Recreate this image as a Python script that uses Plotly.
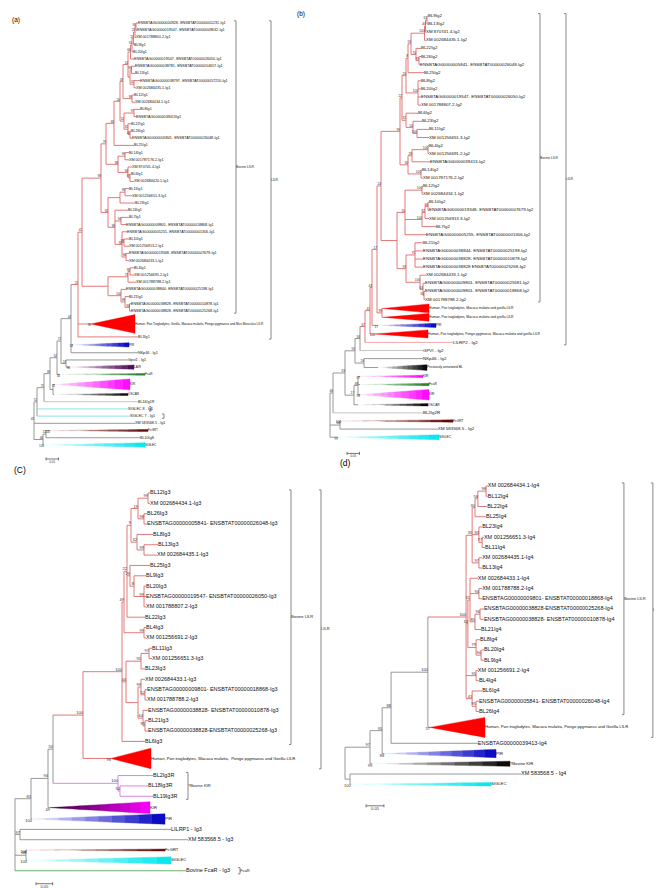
import plotly.graph_objects as go

W, H = 662, 888


def N(d, b, *kids, c=None):
    """Internal tree node: depth (substitutions/site from root), bootstrap, children."""
    return {"d": d, "b": b, "kids": list(kids), "c": c}

# ======================= panel (a) : Ig1 =======================
A_LEAVES = [
    "ENSBTAG00000000928- ENSBTAT00000001231-Ig1", "ENSBTAG00000019547- ENSBTAT00000009632-Ig1",
    "XM 001788801.2-Ig1", "BL9Ig1", "BL20Ig1", "ENSBTAG00000019547- ENSBTAT00000026050-Ig1",
    "ENSBTAG00000038781- ENSBTAT00000054657-Ig1", "BL13Ig1", "ENSBTAG00000038797- ENSBTAT00000057210-Ig1",
    "XM 002684435.1-Ig1", "BL12Ig1", "XM 002684434.1-Ig1", "BL8Ig1", "ENSBTAG00000039413Ig1",
    "BL22Ig1", "BL26Ig1", "ENSBTAG00000005841- ENSBTAT00000026048-Ig1", "BL25Ig1", "BL14Ig1",
    "XM 001787176.2-Ig1", "XM 870741.4-Ig1", "BL6Ig1", "XM 002684420.1-Ig1", "BL11Ig1",
    "XM 001256651.3-Ig1", "BL23Ig1", "BL24Ig1", "BL7Ig1", "ENSBTAG00000009801- ENSBTAT00000018868-Ig1",
    "ENSBTAG00000005255- ENSBTAT00000001306-Ig1", "BL10Ig1", "XM 001256913.2-Ig1",
    "ENSBTAG00000019348- ENSBTAT00000007679-Ig1", "XM 002684433.1-Ig1", "BL4Ig1", "XM 001256691.2-Ig1",
    "XM 001788788.2-Ig1", "ENSBTAG00000038844- ENSBTAT00000025198-Ig1", "BL21Ig1",
    "ENSBTAG00000038828- ENSBTAT00000010878-Ig1", "ENSBTAG00000038828- ENSBTAT00000025268-Ig1",
    "Human, Pan Troglodytes, Gorilla, Macaca mulatta, Pongo pygmaeus and Mus Musculus LILR",
    "BL3Ig1", "PIR", "NKp46 - Ig1", "Gpvi1 - Ig1", "LAIR", "FcaR", "KIR", "OSCAR", "BL16Ig1R",
    "SIGLEC 8 - Ig1", "SIGLEC 7 - Ig1", "XM 583568.5 - Ig1", "FcGRT", "BL10Ig8", "SIGLEC",
]
A_TIPS = [
    0.416, 0.412, 0.408, 0.400, 0.396, 0.400, 0.404, 0.404, 0.424, 0.408,
    0.400, 0.404, 0.424, 0.408, 0.388, 0.388, 0.392, 0.400, 0.380, 0.380,
    0.392, 0.388, 0.400, 0.380, 0.392, 0.404, 0.376, 0.380, 0.368, 0.372,
    0.380, 0.380, 0.380, 0.380, 0.400, 0.400, 0.408, 0.368, 0.380, 0.388,
    0.388, 0.404, 0.416, 0.380, 0.416, 0.376, 0.400, 0.444, 0.384, 0.376,
    0.416, 0.376, 0.384, 0.404, 0.456, 0.424, 0.444,
]
A_TREE = N(0.000, "43",
    N(0.012, "51",
        N(0.040, "75",
            N(0.064, "39",
                N(0.092, "62",
                    N(0.108, "72",
                        N(0.148, "44",
                            N(0.176, "21",
                                N(0.192, "41",
                                    N(0.268, "89",
                                        N(0.288, "79",
                                            N(0.320, "89",
                                                N(0.344, "20",
                                                    N(0.356, "58",
                                                        N(0.376, "14",
                                                            N(0.386, "66",
                                                                N(0.392, "50",
                                                                    N(0.398, "15",
                                                                        N(0.404, "23", N(0.408, "86", 1, 2), 3),
                                                                        4),
                                                                    5),
                                                                6),
                                                            N(0.384, "", N(0.390, "99", 7, 8), N(0.400, "32", 9, 10))),
                                                        N(0.392, "99", 11, 12)),
                                                    N(0.360, "52",
                                                        N(0.400, "97", 13, 14),
                                                        N(0.376, "31", 15, N(0.384, "46", 16, 17)))),
                                                18),
                                            N(0.336, "98",
                                                N(0.364, "99", 19, 20),
                                                N(0.376, "94", 21, N(0.384, "97", 22, 23)))),
                                        N(0.296, "92",
                                            N(0.344, "", N(0.364, "99", 24, 25), 26),
                                            N(0.324, "98", 27,
                                                N(0.348, "94", 28, 29),
                                                N(0.352, "96", 30,
                                                    N(0.360, "98", 31, 32),
                                                    N(0.368, "96", 33, 34))))),
                                    N(0.296, "",
                                        N(0.376, "73", N(0.384, "99", 35, 36), 37),
                                        N(0.348, "100", 38, N(0.364, "99", 39, N(0.382, "99", 40, 41))))),
                                42, 43, c="red"),
                            44, 45),
                        N(0.128, "24", 46, 47)),
                    48),
                N(0.076, "", 49, 50)),
            51),
        52, 53),
    54,
    N(0.036, "46", N(0.048, "51", 55, 56), 57))
# collapsed clades: leaf -> (apex depth, bootstrap, palette, height in rows)
A_WEDGES = {42: (0.228, "98", "lilr", 2.6), 44: (0.156, "54", "pir", 0.6), 47: (0.144, "96", "lair", 0.6),
            48: (0.104, "56", "fcar", 0.25), 49: (0.084, "75", "kir", 1.5), 50: (0.080, "", "oscar", 0.3),
            55: (0.064, "100", "fcgrt", 0.3), 57: (0.040, "100", "siglec", 0.6)}
A_ROWS = {42: 2.6, 44: 1.2, 49: 1.8}
A_LEAFCOL = {51: "lgrey", 52: "cyan", 53: "cyan"}
A_BRACKETS = [(1, 41, 0.808, "Bovine LILR"), (1, 43, 0.948, "LILR"), (52, 52, 0.468, ""), (53, 53, 0.520, "")]
A_SCALE = (0.048, 1.95)

# ======================= panel (b) : Ig2 =======================
B_LEAVES = [
    "BL9Ig2", "BL13Ig2", "XM 870741.4-Ig2", "XM 002684435.1-Ig2", "BL22Ig2", "BL26Ig2",
    "ENSBTAG00000005841- ENSBTAT00000026048-Ig2", "BL25Ig2", "BL8Ig2", "BL20Ig2",
    "ENSBTAG00000019547- ENSBTAT00000026050-Ig2", "XM 001788807.2-Ig2", "BL6Ig2", "BL23Ig2",
    "BL11Ig2", "XM 001256651.3-Ig2", "BL4Ig2", "XM 001256691.2-Ig2", "ENSBTAG00000039413-Ig2",
    "BL14Ig2", "XM 001787176.2-Ig2", "BL12Ig2", "XM 002684434.1-Ig2", "BL10Ig2",
    "ENSBTAG00000019348- ENSBTAT00000007679-Ig2", "XM 001256913.3-Ig2", "BL7Ig2",
    "ENSBTAG00000005255- ENSBTAT00000001306-Ig2", "BL21Ig2", "ENSBTAG00000038844- ENSBTAT00000025198-Ig2",
    "ENSBTAG00000038828- ENSBTAT00000010878-Ig2", "ENSBTAG00000038828 ENSBTAT00000025268-Ig2",
    "XM 002684433.1-Ig2", "ENSBTAG00000009801- ENSBTAT00000025581-Ig2",
    "ENSBTAG00000009801- ENSBTAT00000018868-Ig2", "XM 001788788.2-Ig2",
    "Human, Pan troglodytes, Macaca mulatta and gorilla LILR",
    "Human, Pan troglodytes, Macaca mulatta and gorilla LILR", "PIR",
    "Human, Pan troglodytes, Pongo pygmaeus, Macaca mulatta and gorilla LILR",
    "LILRP2 - Ig2", "GPVI - Ig2", "NKp46 - Ig2", "Previously annotated BL", "KIR", "FcaR", "KIR",
    "OSCAR", "BL2Ig2R", "FcGRT", "XM 583568.5 - Ig2", "SIGLEC",
]
B_TIPS = [
    0.392, 0.392, 0.384, 0.384, 0.364, 0.364, 0.360, 0.376, 0.364, 0.364,
    0.364, 0.364, 0.352, 0.368, 0.396, 0.396, 0.396, 0.396, 0.400, 0.368,
    0.372, 0.372, 0.372, 0.396, 0.396, 0.396, 0.424, 0.384, 0.372, 0.372,
    0.372, 0.372, 0.384, 0.380, 0.380, 0.380, 0.396, 0.396, 0.424, 0.392,
    0.492, 0.372, 0.372, 0.388, 0.372, 0.396, 0.396, 0.392, 0.372, 0.492,
    0.432, 0.436,
]
B_TREE = N(0.000, "",
    N(0.012, "46",
        N(0.060, "63",
            N(0.100, "92",
                N(0.120, "34",
                    N(0.140, "67",
                        N(0.160, "41",
                            N(0.168, "43",
                                N(0.188, "17",
                                    N(0.204, "24",
                                        N(0.280, "99",
                                            N(0.288, "22",
                                                N(0.304, "20",
                                                    N(0.312, "8",
                                                        N(0.324, "93",
                                                            N(0.378, "100", N(0.382, "40", N(0.388, "61", 1, 2), 3), 4),
                                                            N(0.344, "70", 5, N(0.356, "99", 6, 7))),
                                                        8),
                                                    N(0.352, "100", 9, 10, 11, 12)),
                                                N(0.304, "31", 13, N(0.332, "50", 14, N(0.348, "100", 15, 16)))),
                                            N(0.312, "30",
                                                N(0.328, "28", N(0.392, "100", 17, 18), 19),
                                                N(0.364, "100", 20, 21))),
                                        N(0.268, "",
                                            N(0.300, "55",
                                                N(0.368, "100", 22, 23),
                                                N(0.368, "100", N(0.380, "82", N(0.392, "66", 24, 25), 26), 27),
                                                28),
                                            N(0.304, "93",
                                                N(0.340, "75", 29, 30, 31, 32),
                                                N(0.360, "100", 33, N(0.372, "63", 34, N(0.376, "61", 35, 36)))))),
                                    N(0.208, "98", 37, 38)),
                                39),
                            40),
                        41, c="red"),
                    42),
                N(0.136, "24", 43, 44)),
            N(0.096, "17", N(0.112, "48", 45, 46, 47), 48)),
        49),
    N(0.040, "64", 50, 51),
    52)
B_WEDGES = {37: (0.212, "", "lilr", 1.1), 38: (0.212, "", "lilr", 0.95), 39: (0.192, "17", "pir", 0.5),
            40: (0.180, "100", "lilr", 1.0), 44: (0.192, "", "black", 0.7), 45: (0.120, "97", "kir", 0.3),
            46: (0.120, "", "fcar", 0.3), 47: (0.120, "98", "kir", 1.3), 48: (0.112, "", "oscar", 0.3),
            50: (0.044, "100", "fcgrt", 0.3), 52: (0.032, "99", "siglec", 0.6)}
B_ROWS = {37: 1.2, 38: 1.0, 40: 1.1, 44: 1.2, 47: 1.5}
B_LEAFCOL = {41: "lilrp2", 42: "lgrey", 49: "lgrey"}
B_BRACKETS = [(1, 36, 0.840, "Bovine LILR"), (1, 41, 0.944, "LILR")]
B_SCALE = (0.068, 2.0)

# ======================= panel (c) : Ig3 =======================
C_LEAVES = [
    "BL12Ig3", "XM 002684434.1-Ig3", "BL26Ig3", "ENSBTAG00000005841- ENSBTAT00000026048-Ig3",
    "BL8Ig3", "BL13Ig3", "XM 002684435.1-Ig3", "BL25Ig3", "BL9Ig3", "BL20Ig3",
    "ENSBTAG00000019547- ENSBTAT00000026050-Ig3", "XM 001788807.2-Ig3", "BL22Ig3", "BL4Ig3",
    "XM 001256691.2-Ig3", "BL11Ig3", "XM 001256651.3-Ig3", "BL23Ig3", "XM 002684433.1-Ig3",
    "ENSBTAG00000009801- ENSBTAT00000018868-Ig3", "XM 001788788.2-Ig3",
    "ENSBTAG00000038828- ENSBTAT00000010878-Ig3", "BL21Ig3", "ENSBTAG00000038828-ENSBTAT00000025268-Ig3",
    "BL6Ig3", "Human, Pan troglodytes, Macaca mulatta,  Pongo pygmaeus and Gorilla LILR",
    "BL2Ig3R", "BL18Ig3R", "BL19Ig3R", "KIR", "PIR", "LILRP1 - Ig3", "XM 583568.5 - Ig3",
    "FcGRT", "SIGLEC", "Bovine FcaR - Ig3",
]
C_TIPS = [
    0.405, 0.405, 0.396, 0.396, 0.414, 0.429, 0.426, 0.405, 0.393, 0.393,
    0.393, 0.393, 0.390, 0.393, 0.393, 0.411, 0.411, 0.390, 0.390, 0.396,
    0.396, 0.399, 0.399, 0.399, 0.390, 0.408, 0.414, 0.399, 0.414, 0.405,
    0.450, 0.468, 0.519, 0.450, 0.468, 0.513,
]
C_TREE = N(0.000, "",
    N(0.048, "83",
        N(0.099, "94",
            N(0.114, "50",
                N(0.204, "100",
                    N(0.321, "100",
                        N(0.327, "49",
                            N(0.336, "22",
                                N(0.348, "9",
                                    N(0.369, "19", N(0.399, "99", 1, 2), N(0.387, "98", 3, 4)),
                                    N(0.366, "32", 5, N(0.387, "99", 6, 7))),
                                N(0.345, "29", 8, N(0.357, "8", 9, N(0.387, "99", 10, 11, 12))),
                                13),
                            N(0.387, "99", 14, 15)),
                        N(0.333, "44",
                            N(0.378, "95", N(0.402, "97", 16, 17), 18),
                            N(0.369, "",
                                N(0.378, "99", 19, N(0.390, "52", 20, 21)),
                                N(0.384, "64", 22, N(0.390, "95", 23, 24)))),
                        25),
                    26, c="red"),
                N(0.309, "100", 27, N(0.315, "50", 28, 29), c="magenta")),
            30),
        31),
    N(0.015, "97", 32, 33),
    N(0.033, "48", 34, 35),
    36)
C_WEDGES = {26: (0.288, "98", "lilr", 2.0), 30: (0.105, "49", "kir_dark", 1.15), 31: (0.051, "100", "pir", 1.0),
            34: (0.036, "100", "fcgrt", 0.2), 35: (0.036, "100", "siglec", 0.7)}
C_ROWS = {26: 2.3, 30: 1.2}
C_LEAFCOL = {36: "green"}
C_BRACKETS = [(1, 25, 0.828, "Bovine LILR"), (1, 26, 0.918, "LILR"), (27, 29, 0.519, "?Bovine KIR"),
              (36, 36, 0.675, "FcaR")]
C_SCALE = (0.063, 1.25)

# ======================= panel (d) : Ig4 =======================
D_LEAVES = [
    "XM 002684434.1-Ig4", "BL12Ig4", "BL22Ig4", "BL25Ig4", "BL23Ig4", "XM 001256651.3-Ig4", "BL11Ig4",
    "XM 002684435.1-Ig4", "BL13Ig4", "XM 002684433.1-Ig4", "XM 001788788.2-Ig4",
    "ENSBTAG00000009801- ENSBTAT00000018868-Ig4", "ENSBTAG00000038828-ENSBTAT00000025268-Ig4",
    "ENSBTAG00000038828- ENSBTAT00000010878-Ig4", "BL21Ig4", "BL8Ig4", "BL20Ig4", "BL9Ig4",
    "XM 001256691.2-Ig4", "BL4Ig4", "BL6Ig4", "ENSBTAG00000005841- ENSBTAT00000026048-Ig4", "BL26Ig4",
    "Human, Pan troglodytes, Macaca mulatta, Pongo pygmaeus and Gorilla LILR",
    "ENSBTAG00000039413-Ig4", "PIR", "?Bovine KIR", "XM 583568.5 - Ig4", "SIGLEC",
]
D_TIPS = [
    0.400, 0.400, 0.398, 0.395, 0.384, 0.389, 0.392, 0.384, 0.384, 0.372,
    0.384, 0.384, 0.389, 0.389, 0.381, 0.378, 0.389, 0.389, 0.372, 0.375,
    0.384, 0.375, 0.375, 0.392, 0.372, 0.423, 0.462, 0.493, 0.409,
]
D_TREE = N(0.000, "",
    N(0.070, "97",
        N(0.104, "95",
            N(0.129, "88",
                N(0.232, "100",
                    N(0.339, "100",
                        N(0.356, "35",
                            N(0.364, "30", N(0.372, "58", N(0.395, "98", 1, 2), 3), 4),
                            N(0.375, "83", 5, N(0.384, "77", 6, 7)),
                            N(0.375, "97", 8, 9)),
                        N(0.344, "14",
                            N(0.350, "31", 10, N(0.375, "94", 11, 12), N(0.364, "85", N(0.378, "96", 13, 14), 15)),
                            N(0.367, "79", 16, N(0.381, "90", 17, 18))),
                        N(0.367, "95", 19, 20),
                        N(0.356, "41", 21, N(0.367, "95", 22, 23)),
                        c="red"),
                    24),
                25),
            26),
        27),
    N(0.014, "", 28, 29))
D_WEDGES = {24: (0.238, "57", "lilr", 1.95), 26: (0.110, "88", "pir", 0.8), 27: (0.076, "99", "black", 0.5),
            29: (0.016, "100", "siglec", 0.35)}
D_ROWS = {24: 2.1}
D_LEAFCOL = {}
D_BRACKETS = [(1, 23, 0.781, "Bovine LILR"), (1, 24, 0.862, "LILR")]
D_SCALE = (0.059, 2.1)

# ======================= styling =======================
FONT = "Liberation Sans, Arial, sans-serif"
LINE_COLORS = {"grey": "#8c8c8c", "red": "#e06a6a", "cyan": "#7fdde6", "lgrey": "#bdbdbd",
               "green": "#5fa85f", "magenta": "#dd77dd", "lilrp2": "#f2a0a0"}
BRACKET_COLOR = "#7a7a7a"
WEDGE_COLORS = {"lilr": ("#ff0000", "#ff0000"), "pir": ("#ececff", "#0000c0"), "kir": ("#fbe8fb", "#ff00ff"),
                "kir_dark": ("#300030", "#ff00ff"), "lair": ("#f4e8f4", "#4a004f"), "fcar": ("#eef7ee", "#1f7a1f"),
                "oscar": ("#ffffff", "#000000"), "black": ("#ffffff", "#000000"), "siglec": ("#e8ffff", "#00e5ee"),
                "fcgrt": ("#f8e0e0", "#5a0000")}

PANELS = [
    dict(tag="(a)", leaves=A_LEAVES, tips=A_TIPS, tree=A_TREE, wedges=A_WEDGES, rows=A_ROWS, leafcol=A_LEAFCOL,
         brackets=A_BRACKETS, scale=A_SCALE,
         g=dict(root_px=26, ppu=250, y0=15, s=7.2, leaf_fs=3.7, wedge_fs=3.1, boot_fs=3.0, br_fs=3.3,
                tag_xy=(8, 12), tag_fs=6.5)),
    dict(tag="(b)", leaves=B_LEAVES, tips=B_TIPS, tree=B_TREE, wedges=B_WEDGES, rows=B_ROWS, leafcol=B_LEAFCOL,
         brackets=B_BRACKETS, scale=B_SCALE,
         g=dict(root_px=322, ppu=250, y0=8, s=8.1, leaf_fs=4.4, wedge_fs=3.3, boot_fs=3.2, br_fs=3.3,
                tag_xy=(293, 6), tag_fs=6.5)),
    dict(tag="(C)", leaves=C_LEAVES, tips=C_TIPS, tree=C_TREE, wedges=C_WEDGES, rows=C_ROWS, leafcol=C_LEAFCOL,
         brackets=C_BRACKETS, scale=C_SCALE,
         g=dict(root_px=7, ppu=1 / 0.003, y0=485, s=10.35, leaf_fs=5.5, wedge_fs=4.2, boot_fs=4.0, br_fs=4.1,
                tag_xy=(12, 462), tag_fs=8.5)),
    dict(tag="(d)", leaves=D_LEAVES, tips=D_TIPS, tree=D_TREE, wedges=D_WEDGES, rows=D_ROWS, leafcol=D_LEAFCOL,
         brackets=D_BRACKETS, scale=D_SCALE,
         g=dict(root_px=337, ppu=1 / 0.0028, y0=478, s=10.25, leaf_fs=5.5, wedge_fs=4.2, boot_fs=4.0, br_fs=4.0,
                tag_xy=(337, 455), tag_fs=8.5)),
]


def mix(c0, c1, t):
    a = [int(c0[i:i + 2], 16) for i in (1, 3, 5)]
    b = [int(c1[i:i + 2], 16) for i in (1, 3, 5)]
    return "#%02x%02x%02x" % tuple(round(a[k] + (b[k] - a[k]) * t) for k in range(3))


fig = go.Figure()

for k, P in enumerate(PANELS, start=1):
    sfx = "" if k == 1 else str(k)
    G = P["g"]
    xref, yref = "x" + sfx, "y" + sfx
    fig.update_layout({
        "xaxis" + sfx: dict(domain=[0, 1], range=[-G["root_px"] / G["ppu"], (W - G["root_px"]) / G["ppu"]],
                            visible=False, anchor=yref, fixedrange=True),
        "yaxis" + sfx: dict(domain=[0, 1], range=[(H - G["y0"]) / G["s"], -G["y0"] / G["s"]],
                            visible=False, anchor=xref, fixedrange=True),
    })
    px_x = 1.0 / G["ppu"]          # one pixel in data units along x
    px_y = 1.0 / G["s"]            # one pixel in row units along y

    # leaf rows
    ys, r, prev = [], 0.0, None
    for i in range(len(P["leaves"])):
        a = P["rows"].get(i + 1, 1.0)
        if prev is not None:
            r += (prev + a) / 2.0
        ys.append(r)
        prev = a

    def place(node):
        if isinstance(node, int):
            return
        for c in node["kids"]:
            place(c)
        cy = [ys[c - 1] if isinstance(c, int) else c["y"] for c in node["kids"]]
        node["ymin"], node["ymax"] = min(cy), max(cy)
        node["y"] = (node["ymin"] + node["ymax"]) / 2.0

    place(P["tree"])

    segs = {}
    boots = ([], [], [])
    wboots = ([], [], [])
    reg = ([], [], [])
    wlab = ([], [], [])

    def seg(col, x0, x1, y0, y1):
        xs, yv = segs.setdefault(col, ([], []))
        xs += [x0, x1, None]
        yv += [y0, y1, None]

    def draw(node, pd, col):
        if isinstance(node, int):
            i = node
            y = ys[i - 1]
            lcol = P["leafcol"].get(i, col)
            tip = P["tips"][i - 1]
            if i in P["wedges"]:
                apex, boot, pal, hgt = P["wedges"][i]
                if apex > pd:
                    seg(lcol, pd, apex, y, y)
                c0, c1 = WEDGE_COLORS[pal]
                n = 1 if c0 == c1 else 10
                for j in range(n):
                    xa = apex + (tip - apex) * j / n
                    xb = apex + (tip - apex) * (j + 1) / n
                    ha = hgt / 2.0 * j / n
                    hb = hgt / 2.0 * (j + 1) / n
                    colr = mix(c0, c1, (j + 0.5) / n)
                    fig.add_trace(go.Scatter(
                        x=[xa, xb, xb, xa, xa], y=[y - ha, y - hb, y + hb, y + ha, y - ha],
                        mode="lines", fill="toself", fillcolor=colr, line=dict(color=colr, width=0.4),
                        hoverinfo="skip", showlegend=False, xaxis=xref, yaxis=yref))
                if boot:
                    wboots[0].append(apex)
                    wboots[1].append(y)
                    wboots[2].append(boot)
                wlab[0].append(tip)
                wlab[1].append(y)
                wlab[2].append(P["leaves"][i - 1])
            else:
                seg(lcol, pd, tip, y, y)
                reg[0].append(tip)
                reg[1].append(y)
                reg[2].append(P["leaves"][i - 1])
            return
        ncol = node["c"] or col
        if pd is not None:
            seg(ncol, pd, node["d"], node["y"], node["y"])
        seg(ncol, node["d"], node["d"], node["ymin"], node["ymax"])
        for c in node["kids"]:
            draw(c, node["d"], ncol)
        if node["b"]:
            boots[0].append(node["d"])
            boots[1].append(node["y"])
            boots[2].append(node["b"])

    draw(P["tree"], None, "grey")

    # brackets
    def ext(i):
        if i in P["wedges"]:
            return P["wedges"][i][3] / 2.0
        return 0.3

    for (f, l, bx, lab) in P["brackets"]:
        yt = ys[f - 1] - ext(f)
        yb = ys[l - 1] + ext(l)
        xs, yv = segs.setdefault("bracket", ([], []))
        xs += [bx - 2 * px_x, bx, bx, bx - 2 * px_x, None]
        yv += [yt, yt, yb, yb, None]
        if lab:
            fig.add_trace(go.Scatter(
                x=[bx], y=[(yt + yb) / 2.0], mode="text", text=[lab], textposition="middle right",
                textfont=dict(family=FONT, size=G["br_fs"], color="#222"), hoverinfo="skip",
                showlegend=False, xaxis=xref, yaxis=yref))

    # scale bar
    sx, below = P["scale"]
    sy = ys[-1] + below
    xs, yv = segs.setdefault("scale", ([], []))
    xs += [sx, sx + 0.05, None, sx, sx, None, sx + 0.05, sx + 0.05, None]
    yv += [sy, sy, None, sy - 1.5 * px_y, sy + 1.5 * px_y, None, sy - 1.5 * px_y, sy + 1.5 * px_y, None]
    fig.add_trace(go.Scatter(
        x=[sx + 0.025], y=[sy + 1.5 * px_y], mode="text", text=["0.05"], textposition="bottom center",
        textfont=dict(family=FONT, size=G["boot_fs"], color="#333"), hoverinfo="skip",
        showlegend=False, xaxis=xref, yaxis=yref))

    for col, (xs, yv) in segs.items():
        if col == "bracket":
            c, w = BRACKET_COLOR, 0.9
        elif col == "scale":
            c, w = "#555555", 0.8
        else:
            c, w = LINE_COLORS[col], 0.9
        fig.add_trace(go.Scatter(x=xs, y=yv, mode="lines", line=dict(color=c, width=w),
                                 hoverinfo="skip", showlegend=False, xaxis=xref, yaxis=yref))

    fig.add_trace(go.Scatter(x=reg[0], y=reg[1], text=reg[2], mode="text", textposition="middle right",
                             textfont=dict(family=FONT, size=G["leaf_fs"], color="#111"),
                             hoverinfo="skip", showlegend=False, xaxis=xref, yaxis=yref))
    fig.add_trace(go.Scatter(x=wlab[0], y=wlab[1], text=wlab[2], mode="text", textposition="middle right",
                             textfont=dict(family=FONT, size=G["wedge_fs"], color="#111"),
                             hoverinfo="skip", showlegend=False, xaxis=xref, yaxis=yref))
    fig.add_trace(go.Scatter(x=boots[0], y=boots[1], text=boots[2], mode="text", textposition="top left",
                             textfont=dict(family=FONT, size=G["boot_fs"], color="#333"),
                             hoverinfo="skip", showlegend=False, xaxis=xref, yaxis=yref))
    fig.add_trace(go.Scatter(x=wboots[0], y=wboots[1], text=wboots[2], mode="text", textposition="bottom left",
                             textfont=dict(family=FONT, size=G["boot_fs"], color="#333"),
                             hoverinfo="skip", showlegend=False, xaxis=xref, yaxis=yref))

    tx, ty = G["tag_xy"]
    fig.add_annotation(x=tx / W, y=1 - ty / H, xref="paper", yref="paper", text=P["tag"], showarrow=False,
                       xanchor="center", yanchor="middle", font=dict(family=FONT, size=G["tag_fs"], color="#000000"))

fig.update_layout(width=W, height=H, margin=dict(l=0, r=0, t=0, b=0), autosize=False,
                  paper_bgcolor="white", plot_bgcolor="rgba(0,0,0,0)", showlegend=False)

fig.write_html("out.html")
